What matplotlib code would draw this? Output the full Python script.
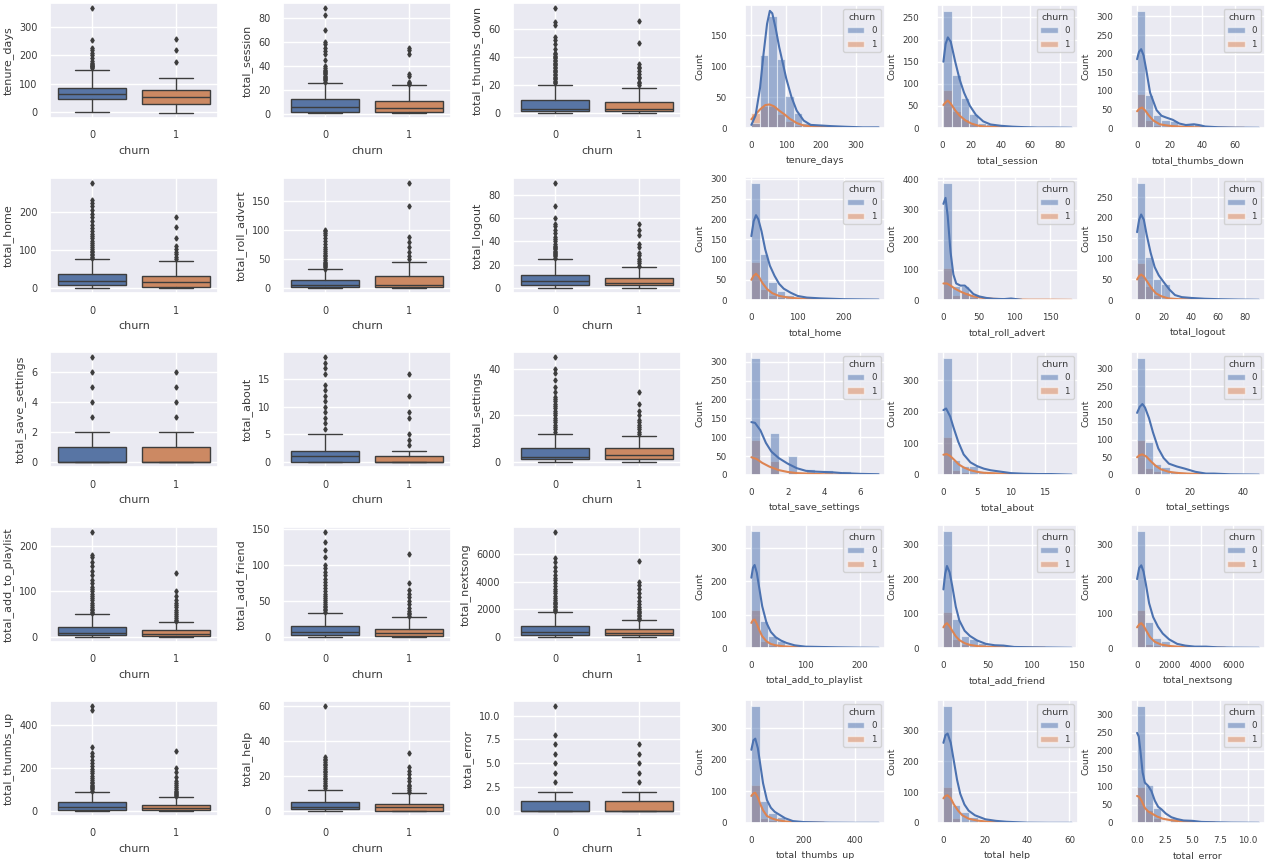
import numpy as np
import matplotlib
matplotlib.use("Agg")
import matplotlib.pyplot as plt
import seaborn as sns
from matplotlib.patches import Patch
from matplotlib.ticker import MultipleLocator

sns.set_theme(style="darkgrid")
plt.rcParams["font.family"] = ["DejaVu Sans"]

features = ["tenure_days", "total_session", "total_thumbs_down",
            "total_home", "total_roll_advert", "total_logout",
            "total_save_settings", "total_about", "total_settings",
            "total_add_to_playlist", "total_add_friend", "total_nextsong",
            "total_thumbs_up", "total_help", "total_error"]

# boxplot stats: whislo, q1, med, q3, whishi
box0 = {
    "tenure_days": [2, 46, 64, 87, 150],
    "total_session": [1, 2, 6, 12.5, 26],
    "total_thumbs_down": [0, 1, 3, 9, 20],
    "total_home": [0, 6, 18, 36, 75],
    "total_roll_advert": [0, 1, 4, 13, 32],
    "total_logout": [0, 2, 6, 11, 25],
    "total_save_settings": [0, 0, 0, 1, 2],
    "total_about": [0, 0, 1, 2, 5],
    "total_settings": [0, 1, 2, 6, 12],
    "total_add_to_playlist": [0, 3, 9, 22, 50],
    "total_add_friend": [0, 2, 6, 15, 33],
    "total_nextsong": [0, 120, 380, 800, 1800],
    "total_thumbs_up": [0, 5, 18, 40, 90],
    "total_help": [0, 1, 2, 5, 12],
    "total_error": [0, 0, 0, 1, 2],
}
box1 = {
    "tenure_days": [-1, 31, 55, 79, 121],
    "total_session": [1, 1.5, 4.7, 10.9, 23.7],
    "total_thumbs_down": [0, 1, 3, 8, 18],
    "total_home": [0, 3, 14, 30, 70],
    "total_roll_advert": [0, 1, 5, 21, 45],
    "total_logout": [0, 2, 4, 8, 18],
    "total_save_settings": [0, 0, 0, 1, 2],
    "total_about": [0, 0, 0, 1, 2],
    "total_settings": [0, 1, 3, 6, 11],
    "total_add_to_playlist": [0, 2, 6, 15, 32],
    "total_add_friend": [0, 1, 5, 11, 27],
    "total_nextsong": [0, 100, 300, 600, 1200],
    "total_thumbs_up": [0, 4, 12, 28, 65],
    "total_help": [0, 0, 2, 4, 10],
    "total_error": [0, 0, 0, 1, 2],
}
fliers0 = {
    "tenure_days": [155, 158, 161, 164, 167, 170, 174, 180, 192, 200, 210, 218, 226, 254, 365],
    "total_session": [27, 28, 29, 30, 31, 32, 33, 34, 35, 36, 37, 38, 40, 45, 50, 52, 55, 58, 60, 70, 82, 88],
    "total_thumbs_down": [21, 22, 23, 24, 25, 26, 27, 28, 29, 30, 31, 32, 33, 34, 35, 36, 37, 38, 39, 40,
                          41, 42, 43, 46, 49, 52, 54, 63, 65, 75],
    "total_home": [78, 82, 86, 90, 94, 98, 103, 108, 113, 118, 124, 130, 136, 142, 150, 158, 166, 175,
                   185, 195, 205, 215, 222, 230, 275],
    "total_roll_advert": [33, 35, 37, 39, 41, 43, 45, 48, 51, 54, 57, 60, 63, 66, 70, 75, 80, 85, 90, 95, 98, 100],
    "total_logout": [26, 27, 28, 29, 30, 31, 32, 33, 34, 35, 36, 38, 40, 42, 44, 47, 50, 53, 55, 60, 70, 90],
    "total_save_settings": [3, 4, 5, 6, 7],
    "total_about": [6, 7, 8, 9, 10, 11, 12, 13, 14, 16, 17, 18, 19],
    "total_settings": [13, 14, 15, 16, 17, 18, 19, 20, 21, 22, 23, 24, 25, 26, 27, 28, 30, 32, 35, 38, 40, 45],
    "total_add_to_playlist": [52, 55, 58, 62, 66, 70, 75, 80, 85, 90, 95, 100, 105, 110, 118, 125, 135, 145,
                              155, 165, 175, 180, 230],
    "total_add_friend": [35, 37, 39, 41, 43, 45, 48, 51, 54, 57, 60, 64, 68, 72, 76, 80, 85, 90, 95, 100,
                         110, 120, 132, 145],
    "total_nextsong": [1850, 1950, 2050, 2150, 2250, 2350, 2450, 2550, 2700, 2850, 3000, 3150, 3300, 3500,
                       3700, 3900, 4100, 4300, 4500, 4800, 5100, 5400, 5700, 7600],
    "total_thumbs_up": [95, 100, 105, 110, 115, 120, 128, 136, 145, 155, 165, 175, 185, 195, 210, 225, 240,
                        255, 270, 300, 470, 490],
    "total_help": [13, 14, 15, 16, 17, 18, 19, 20, 21, 22, 23, 24, 25, 26, 27, 28, 29, 30, 31, 60],
    "total_error": [3, 4, 5, 6, 7, 8, 11],
}
fliers1 = {
    "tenure_days": [175, 220, 258],
    "total_session": [25, 26, 27, 32, 33, 50, 53, 55],
    "total_thumbs_down": [20, 21, 22, 25, 26, 28, 30, 32, 33, 35, 50, 66],
    "total_home": [75, 80, 88, 95, 102, 110, 130, 160, 185],
    "total_roll_advert": [50, 55, 62, 70, 78, 88, 140, 180],
    "total_logout": [19, 21, 23, 25, 28, 30, 35, 38, 45, 50, 55],
    "total_save_settings": [3, 4, 5, 6],
    "total_about": [3, 4, 5, 8, 9, 12, 16],
    "total_settings": [12, 13, 14, 15, 16, 17, 18, 20, 22, 25, 30],
    "total_add_to_playlist": [35, 38, 42, 46, 50, 55, 60, 65, 70, 75, 80, 90, 100, 140],
    "total_add_friend": [29, 31, 33, 36, 40, 45, 50, 55, 60, 65, 75, 115],
    "total_nextsong": [1300, 1400, 1500, 1600, 1700, 1800, 1900, 2000, 2200, 2400, 2600, 2900, 3200, 3500,
                       3800, 4000, 5500],
    "total_thumbs_up": [70, 75, 80, 85, 90, 95, 100, 110, 120, 130, 140, 160, 180, 200, 280],
    "total_help": [11, 12, 13, 14, 15, 17, 19, 21, 23, 25, 33],
    "total_error": [3, 4, 5, 6, 7],
}

# histogram: value range and bin counts per churn
hist_range = {
    "tenure_days": (0, 365), "total_session": (1, 88), "total_thumbs_down": (0, 75),
    "total_home": (0, 275), "total_roll_advert": (0, 180), "total_logout": (0, 90),
    "total_save_settings": (0, 7), "total_about": (0, 19), "total_settings": (0, 46),
    "total_add_to_playlist": (0, 235), "total_add_friend": (0, 145), "total_nextsong": (0, 7600),
    "total_thumbs_up": (0, 490), "total_help": (0, 61), "total_error": (0, 11),
}
counts0 = {
    "tenure_days": [8, 118, 180, 112, 52, 25, 8, 3, 4, 3, 2, 1, 1, 0, 1],
    "total_session": [265, 120, 68, 32, 12, 8, 5, 3, 2, 2, 1, 1, 0, 1, 1],
    "total_thumbs_down": [315, 90, 35, 22, 18, 8, 10, 10, 3, 2, 1, 1, 1, 1, 1],
    "total_home": [290, 115, 45, 22, 12, 6, 3, 2, 1, 1, 1, 1, 0, 0, 1],
    "total_roll_advert": [390, 48, 45, 15, 8, 4, 2, 1, 2, 0, 0, 0, 0, 0, 0],
    "total_logout": [285, 105, 50, 38, 8, 5, 3, 3, 2, 1, 1, 0, 0, 0, 1],
    "total_save_settings": [310, 0, 110, 0, 50, 0, 15, 0, 12, 0, 10, 0, 3, 3],
    "total_about": [370, 48, 30, 27, 12, 8, 4, 3, 2, 1, 1, 1, 1, 1, 1],
    "total_settings": [330, 92, 32, 22, 12, 8, 5, 3, 2, 1, 1, 0, 0, 0, 1],
    "total_add_to_playlist": [350, 80, 35, 22, 10, 6, 5, 3, 2, 1, 1, 1, 0, 0, 1],
    "total_add_friend": [340, 85, 35, 25, 15, 8, 5, 3, 2, 1, 1, 0, 0, 0, 1],
    "total_nextsong": [340, 75, 30, 20, 8, 5, 3, 2, 2, 1, 1, 0, 0, 0, 1],
    "total_thumbs_up": [368, 68, 32, 20, 8, 4, 2, 1, 1, 0, 0, 0, 0, 0, 2],
    "total_help": [380, 60, 35, 18, 8, 5, 3, 2, 1, 0, 0, 0, 0, 0, 1],
    "total_error": [325, 105, 42, 0, 15, 8, 5, 0, 3, 2, 1, 0, 0, 0, 1],
}
counts1 = {
    "tenure_days": [25, 35, 35, 22, 12, 5, 2, 1, 1, 0, 1, 0, 0, 0, 0],
    "total_session": [85, 38, 20, 8, 3, 2, 1, 1, 1, 0, 0, 0, 0, 0, 0],
    "total_thumbs_down": [92, 22, 8, 5, 5, 2, 2, 1, 0, 1, 0, 0, 0, 1, 0],
    "total_home": [93, 28, 12, 8, 5, 3, 2, 1, 1, 1, 0, 0, 0, 0, 0],
    "total_roll_advert": [105, 15, 25, 10, 5, 3, 1, 1, 0, 0, 0, 1, 0, 0, 1],
    "total_logout": [90, 35, 12, 5, 2, 1, 1, 1, 1, 0, 0, 0, 0, 0, 0],
    "total_save_settings": [92, 0, 38, 0, 10, 0, 3, 0, 2, 0, 1, 0, 1, 0],
    "total_about": [120, 15, 8, 5, 3, 2, 1, 1, 0, 1, 0, 0, 1, 0, 0],
    "total_settings": [100, 20, 10, 5, 3, 2, 1, 1, 1, 1, 0, 0, 0, 0, 0],
    "total_add_to_playlist": [115, 20, 10, 5, 3, 2, 1, 1, 1, 0, 0, 0, 0, 0, 0],
    "total_add_friend": [105, 25, 12, 6, 3, 2, 1, 1, 0, 0, 0, 1, 0, 0, 0],
    "total_nextsong": [110, 12, 8, 5, 3, 2, 1, 1, 0, 0, 1, 0, 0, 0, 0],
    "total_thumbs_up": [120, 15, 8, 4, 2, 1, 1, 0, 1, 0, 0, 0, 0, 0, 0],
    "total_help": [118, 15, 8, 5, 3, 2, 1, 1, 0, 0, 0, 0, 0, 0, 0],
    "total_error": [100, 35, 15, 0, 5, 3, 2, 0, 1, 1, 0, 0, 0, 0, 0],
}

# kde curves (x, count)
kde0 = {
    "tenure_days": [(0, 5), (12, 20), (25, 65), (35, 120), (45, 168), (53, 189), (60, 185), (70, 160),
                    (80, 130), (90, 105), (100, 80), (115, 50), (130, 28), (150, 12), (170, 5), (200, 4),
                    (230, 3), (270, 2), (320, 1), (365, 1)],
    "total_session": [(1, 150), (2.5, 190), (4, 205), (6, 195), (9, 150), (12, 110), (15, 80), (19, 50),
                      (23, 30), (28, 15), (33, 8), (40, 5), (48, 3), (55, 2), (65, 1), (75, 1), (88, 0.5)],
    "total_thumbs_down": [(0, 185), (1.2, 205), (2.5, 212), (4, 195), (5.5, 160), (8, 95), (12, 48),
                          (15, 33), (18, 28), (22, 22), (26, 12), (30, 8), (35, 10), (38, 8), (42, 4),
                          (50, 2), (60, 1), (75, 0.5)],
    "total_home": [(0, 158), (5, 195), (10, 210), (15, 200), (22, 170), (30, 125), (40, 85), (50, 60),
                   (60, 40), (70, 28), (85, 18), (100, 10), (120, 6), (150, 4), (200, 2), (275, 1)],
    "total_roll_advert": [(0, 320), (3, 340), (6, 280), (10, 160), (14, 85), (18, 55), (24, 48), (30, 48),
                          (36, 35), (42, 20), (50, 12), (60, 7), (70, 4), (85, 3), (95, 5), (102, 3), (110, 0.5)],
    "total_logout": [(0, 165), (1.5, 195), (3, 208), (5, 195), (7, 160), (10, 115), (13, 80), (16, 60),
                     (20, 42), (24, 25), (28, 12), (33, 7), (40, 5), (50, 3), (60, 2), (75, 1), (90, 0.5)],
    "total_save_settings": [(0, 140), (0.2, 138), (0.5, 118), (0.8, 85), (1.1, 62), (1.5, 45), (2, 30),
                            (2.5, 18), (3, 11), (3.5, 9), (4, 8), (4.5, 7), (5, 5), (6, 3), (7, 2)],
    "total_about": [(0, 205), (0.4, 210), (1, 185), (1.5, 150), (2.2, 105), (3, 65), (4, 40), (5, 28),
                    (6, 20), (7, 15), (8, 12), (10, 6), (12, 4), (14, 3), (16, 3), (17.5, 2), (19, 1)],
    "total_settings": [(0, 175), (1, 192), (2, 200), (3, 190), (4.5, 160), (6, 120), (8, 75), (10, 48),
                       (12, 32), (15, 24), (18, 18), (22, 9), (26, 4), (29, 4), (35, 2), (46, 1)],
    "total_add_to_playlist": [(0, 210), (3, 240), (6, 248), (10, 225), (15, 175), (20, 125), (28, 75),
                              (36, 48), (45, 32), (55, 22), (65, 15), (80, 8), (100, 4), (130, 3),
                              (160, 2), (200, 1), (235, 0.5)],
    "total_add_friend": [(0, 170), (2, 215), (4, 238), (7, 220), (10, 180), (14, 120), (18, 80), (24, 50),
                         (30, 35), (38, 22), (48, 12), (58, 8), (68, 7), (80, 3), (100, 2), (145, 0.5)],
    "total_nextsong": [(0, 200), (130, 232), (260, 240), (400, 222), (550, 185), (750, 130), (1000, 90),
                       (1300, 62), (1600, 42), (2000, 25), (2500, 12), (3000, 7), (3600, 4), (4300, 4),
                       (5000, 2), (6000, 1), (7600, 0.5)],
    "total_thumbs_up": [(0, 230), (8, 260), (15, 265), (25, 235), (35, 180), (45, 125), (60, 72), (75, 48),
                        (90, 35), (110, 25), (130, 15), (160, 6), (200, 3), (300, 1), (400, 0.5), (490, 0.5)],
    "total_help": [(0, 260), (1, 285), (2, 290), (3.5, 260), (5, 200), (6.5, 140), (8, 95), (10, 60),
                   (12, 40), (15, 25), (20, 12), (25, 7), (30, 4), (40, 1), (50, 0.5), (61, 0.5)],
    "total_error": [(0, 250), (0.15, 240), (0.3, 200), (0.5, 140), (0.7, 112), (1, 103), (1.3, 88),
                    (1.6, 62), (1.9, 45), (2.2, 38), (2.6, 26), (3.1, 16), (3.6, 11), (4.2, 7), (5, 6),
                    (5.8, 3), (7, 2), (8.5, 1), (11, 0.5)],
}
kde1 = {
    "tenure_days": [(0, 14), (12, 22), (25, 30), (40, 37), (52, 38), (65, 35), (80, 28), (95, 22), (110, 15),
                    (130, 8), (150, 4), (180, 2), (210, 2), (240, 1), (258, 0.5)],
    "total_session": [(1, 52), (2.5, 58), (4, 62), (6, 55), (9, 40), (12, 28), (16, 17), (20, 10), (25, 5),
                      (30, 3), (38, 2), (45, 1), (55, 0.5)],
    "total_thumbs_down": [(0, 45), (1.5, 52), (3, 55), (5, 47), (7, 35), (10, 20), (14, 10), (18, 7),
                          (22, 5), (26, 4), (30, 3), (35, 2), (45, 1), (55, 0.5), (66, 0.3)],
    "total_home": [(0, 50), (5, 60), (10, 65), (16, 58), (24, 42), (34, 27), (45, 17), (60, 10), (80, 6),
                   (100, 4), (130, 2), (160, 1), (185, 0.5)],
    "total_roll_advert": [(0, 55), (5, 55), (10, 48), (16, 38), (24, 28), (32, 20), (42, 12), (55, 7),
                          (70, 4), (90, 2), (120, 1), (150, 1), (180, 0.5)],
    "total_logout": [(0, 50), (1.5, 58), (3, 62), (5, 57), (8, 42), (11, 27), (14, 16), (18, 9), (23, 4),
                     (30, 2), (40, 2), (50, 1), (55, 0.5)],
    "total_save_settings": [(0, 47), (0.3, 42), (0.6, 32), (1, 22), (1.5, 13), (2, 8), (2.5, 5), (3, 4),
                            (4, 2), (5, 1), (6, 0.5)],
    "total_about": [(0, 64), (0.5, 66), (1, 60), (1.6, 48), (2.3, 33), (3, 24), (4, 15), (5, 10), (6, 7),
                    (8, 5), (10, 3), (12, 2), (14, 1.5), (16, 1)],
    "total_settings": [(0, 50), (1, 56), (2, 58), (3.5, 52), (5, 40), (7, 26), (9, 16), (12, 9), (15, 6),
                       (19, 4), (23, 3), (27, 2), (30, 1)],
    "total_add_to_playlist": [(0, 75), (3, 83), (6, 85), (10, 72), (15, 52), (20, 35), (28, 20), (36, 12),
                              (45, 8), (60, 5), (80, 3), (100, 2), (120, 1), (140, 0.5)],
    "total_add_friend": [(0, 60), (2, 68), (4, 72), (7, 63), (10, 50), (14, 34), (18, 23), (24, 14),
                         (30, 9), (40, 5), (55, 3), (70, 2), (90, 1), (115, 0.5)],
    "total_nextsong": [(0, 60), (130, 68), (260, 72), (400, 65), (600, 48), (800, 32), (1100, 18),
                       (1500, 10), (2000, 6), (2500, 4), (3000, 3), (4000, 1.5), (5500, 0.5)],
    "total_thumbs_up": [(0, 85), (8, 93), (15, 95), (25, 80), (35, 58), (45, 40), (60, 22), (80, 14),
                        (100, 9), (130, 5), (160, 3), (200, 1.5), (240, 1), (280, 0.5)],
    "total_help": [(0, 80), (1, 88), (2, 90), (3.5, 80), (5, 60), (7, 40), (9, 25), (12, 14), (16, 8),
                   (20, 5), (25, 3), (30, 1.5), (33, 0.5)],
    "total_error": [(0, 75), (0.2, 72), (0.4, 62), (0.7, 42), (1, 32), (1.4, 25), (1.8, 18), (2.3, 12),
                    (3, 8), (3.8, 5), (4.5, 3), (5.5, 2), (7, 1)],
}

# tick spacing of the value axis, and of the Count axis
value_step = {
    "tenure_days": 100, "total_session": 20, "total_thumbs_down": 20,
    "total_home": 100, "total_roll_advert": 50, "total_logout": 20,
    "total_save_settings": 2, "total_about": 5, "total_settings": 20,
    "total_add_to_playlist": 100, "total_add_friend": 50, "total_nextsong": 2000,
    "total_thumbs_up": 200, "total_help": 20, "total_error": 2.5,
}
count_step = {
    "tenure_days": 50, "total_session": 50, "total_thumbs_down": 50,
    "total_home": 50, "total_roll_advert": 100, "total_logout": 50,
    "total_save_settings": 50, "total_about": 100, "total_settings": 50,
    "total_add_to_playlist": 100, "total_add_friend": 100, "total_nextsong": 100,
    "total_thumbs_up": 100, "total_help": 100, "total_error": 50,
}

W, H = 1272, 859
blue = "#4C72B0"
orange = "#DD8452"
box_colors = ["#5875a4", "#cc8963"]
line_gray = "#3d3d3d"
text_col = "#3a3a3a"

fig = plt.figure(figsize=(W / 100, H / 100), dpi=100)


def px_axes(left, top, w, h):
    return fig.add_axes([left / W, 1 - (top + h) / H, w / W, h / H])


box_left = [50, 283, 513]
box_top = [3, 178, 352, 527, 701]
hist_left = [745, 937, 1131]
hist_width = [140, 141, 134]
hist_top = [5, 177, 352, 525, 700]

for i, feat in enumerate(features):
    r, c = divmod(i, 3)

    # ---- boxplot ----
    ax = px_axes(box_left[c], box_top[r], 168, 115)
    stats = []
    for b, fl in [(box0[feat], fliers0[feat]), (box1[feat], fliers1[feat])]:
        stats.append(dict(whislo=b[0], q1=b[1], med=b[2], q3=b[3], whishi=b[4], fliers=fl))
    bp = ax.bxp(stats, positions=[0, 1], widths=0.8, patch_artist=True,
                boxprops=dict(edgecolor=line_gray, linewidth=1.0),
                medianprops=dict(color=line_gray, linewidth=1.0),
                whiskerprops=dict(color=line_gray, linewidth=1.0),
                capprops=dict(color=line_gray, linewidth=1.0),
                flierprops=dict(marker="d", markersize=2.6, markerfacecolor=line_gray,
                                markeredgecolor=line_gray, linestyle="none"))
    for patch, col in zip(bp["boxes"], box_colors):
        patch.set_facecolor(col)
    ax.set_xlim(-0.5, 1.5)
    ax.set_xticks([0, 1])
    ax.set_xticklabels(["0", "1"])
    ax.yaxis.set_major_locator(MultipleLocator(value_step[feat]))
    ax.tick_params(labelsize=7, labelcolor=text_col, pad=3)
    ax.set_xlabel("churn", fontsize=8, color=text_col)
    ax.set_ylabel(feat, fontsize=8, color=text_col)

    # ---- histogram + kde ----
    ax = px_axes(hist_left[c], hist_top[r], hist_width[c], 123)
    lo, hi = hist_range[feat]
    edges = np.linspace(lo, hi, len(counts0[feat]) + 1)
    ax.bar(edges[:-1], counts1[feat], width=np.diff(edges), align="edge",
           color=orange, alpha=0.5, edgecolor="white", linewidth=0.8)
    ax.bar(edges[:-1], counts0[feat], width=np.diff(edges), align="edge",
           color=blue, alpha=0.5, edgecolor="white", linewidth=0.8)
    k1 = np.array(kde1[feat])
    k0 = np.array(kde0[feat])
    ax.plot(k1[:, 0], k1[:, 1], color=orange, lw=1.5)
    ax.plot(k0[:, 0], k0[:, 1], color=blue, lw=1.5)
    ax.xaxis.set_major_locator(MultipleLocator(value_step[feat]))
    ax.yaxis.set_major_locator(MultipleLocator(count_step[feat]))
    ax.tick_params(axis="x", labelsize=6.3, labelcolor=text_col, pad=3.5)
    ax.tick_params(axis="y", labelsize=6.3, labelcolor=text_col, pad=7)
    ax.set_xlabel(feat, fontsize=6.8, color=text_col)
    ax.set_ylabel("Count", fontsize=6.6, color=text_col)
    handles = [Patch(facecolor=blue, alpha=0.5, edgecolor="white"),
               Patch(facecolor=orange, alpha=0.5, edgecolor="white")]
    leg = ax.legend(handles, ["0", "1"], title="churn", loc="upper right",
                    fontsize=6.3, title_fontsize=6.8)
    for t in leg.get_texts():
        t.set_color(text_col)
    leg.get_title().set_color(text_col)

fig.savefig("out.png", dpi=100)
